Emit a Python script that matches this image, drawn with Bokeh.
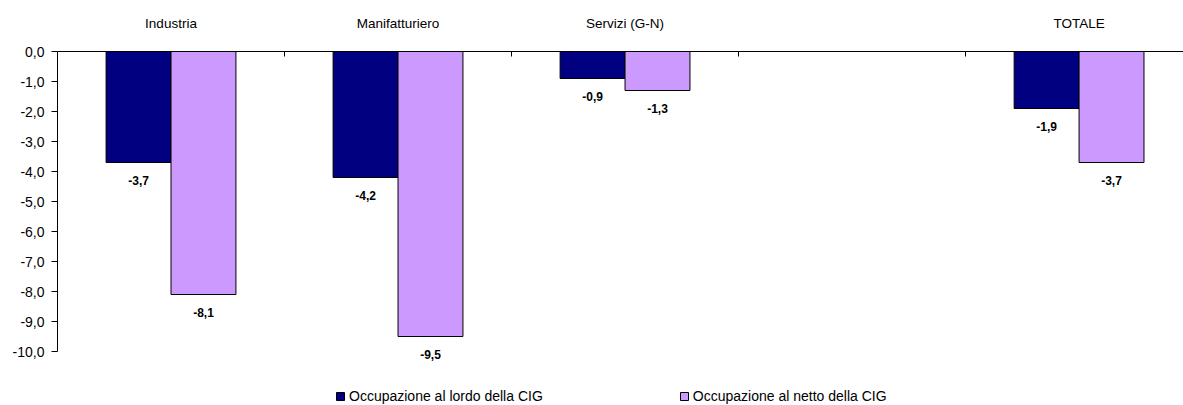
import math
from bokeh.plotting import figure
from bokeh.models import ColumnDataSource, Range1d, FixedTicker, Legend, LegendItem
from bokeh.transform import dodge
from bokeh.core.properties import value
from bokeh.embed import file_html
from bokeh.resources import INLINE

categories = ["Industria", "Manifatturiero", "Servizi (G-N)", "", "TOTALE"]
lordo = [-3.7, -4.2, -0.9, float("nan"), -1.9]
netto = [-8.1, -9.5, -1.3, float("nan"), -3.7]
series_names = ["Occupazione al lordo della CIG", "Occupazione al netto della CIG"]
y_ticks = [0, -1, -2, -3, -4, -5, -6, -7, -8, -9, -10]

NAVY = "#000080"
LILAC = "#CC99FF"
FONT = "Liberation Sans"


def fmt(v):
    if isinstance(v, float) and math.isnan(v):
        return ""
    return f"{v:.1f}".replace(".", ",")


xs = list(range(len(categories)))
src = ColumnDataSource(dict(
    x=xs,
    lordo=lordo,
    netto=netto,
    lordo_lbl=[fmt(v) for v in lordo],
    netto_lbl=[fmt(v) for v in netto],
))

p = figure(width=1183, height=405,
           x_range=Range1d(-0.5, 4.46), y_range=Range1d(-11.8, 0),
           x_axis_location="above", y_axis_location="left",
           output_backend="svg", toolbar_location=None,
           min_border_left=57, min_border_right=0,
           min_border_top=51, min_border_bottom=0)
p.outline_line_color = None
p.xgrid.grid_line_color = None
p.ygrid.grid_line_color = None

bw = 0.286
off = 0.143
r1 = p.vbar(x=dodge("x", -off), top="lordo", bottom=0, width=bw, source=src,
            fill_color=NAVY, line_color="black", line_width=1)
r2 = p.vbar(x=dodge("x", off), top="netto", bottom=0, width=bw, source=src,
            fill_color=LILAC, line_color="black", line_width=1)

for col, lbl, o in (("lordo", "lordo_lbl", -off), ("netto", "netto_lbl", off)):
    p.text(x=dodge("x", o), y=col, text=lbl, source=src,
           text_font=value(FONT), text_font_size="12px", text_font_style="bold",
           text_align="center", text_baseline="middle", y_offset=18,
           text_color="black")

# top category axis (the zero line)
xa = p.xaxis[0]
xa.ticker = FixedTicker(ticks=xs, minor_ticks=[i + 0.5 for i in xs[:-1]])
xa.major_label_overrides = {i: c for i, c in enumerate(categories)}
xa.major_tick_line_color = None
xa.minor_tick_line_color = "black"
xa.minor_tick_in = 5
xa.minor_tick_out = 0
xa.axis_line_color = "black"
xa.major_label_text_font = FONT
xa.major_label_text_font_size = "13.5px"
xa.major_label_text_color = "black"
xa.major_label_standoff = 15

ya = p.yaxis[0]
ya.ticker = FixedTicker(ticks=y_ticks)
ya.major_label_overrides = {t: fmt(float(t)) for t in y_ticks}
ya.bounds = (-10, 0)
ya.axis_line_color = "black"
ya.major_tick_line_color = "black"
ya.major_tick_out = 6
ya.major_tick_in = 0
ya.minor_tick_line_color = None
ya.major_label_text_font = FONT
ya.major_label_text_font_size = "14px"
ya.major_label_text_color = "black"
ya.major_label_standoff = 7

legend = Legend(items=[LegendItem(label=series_names[0], renderers=[r1]),
                       LegendItem(label=series_names[1], renderers=[r2])],
                orientation="horizontal", location=(278, 1),
                padding=0, margin=0, spacing=136,
                glyph_width=10, glyph_height=10, label_standoff=4,
                label_height=14,
                label_text_font=FONT, label_text_font_size="14px",
                label_text_color="black",
                border_line_color=None, background_fill_alpha=0)
p.add_layout(legend)

open("out.html", "w").write(file_html(p, INLINE))
